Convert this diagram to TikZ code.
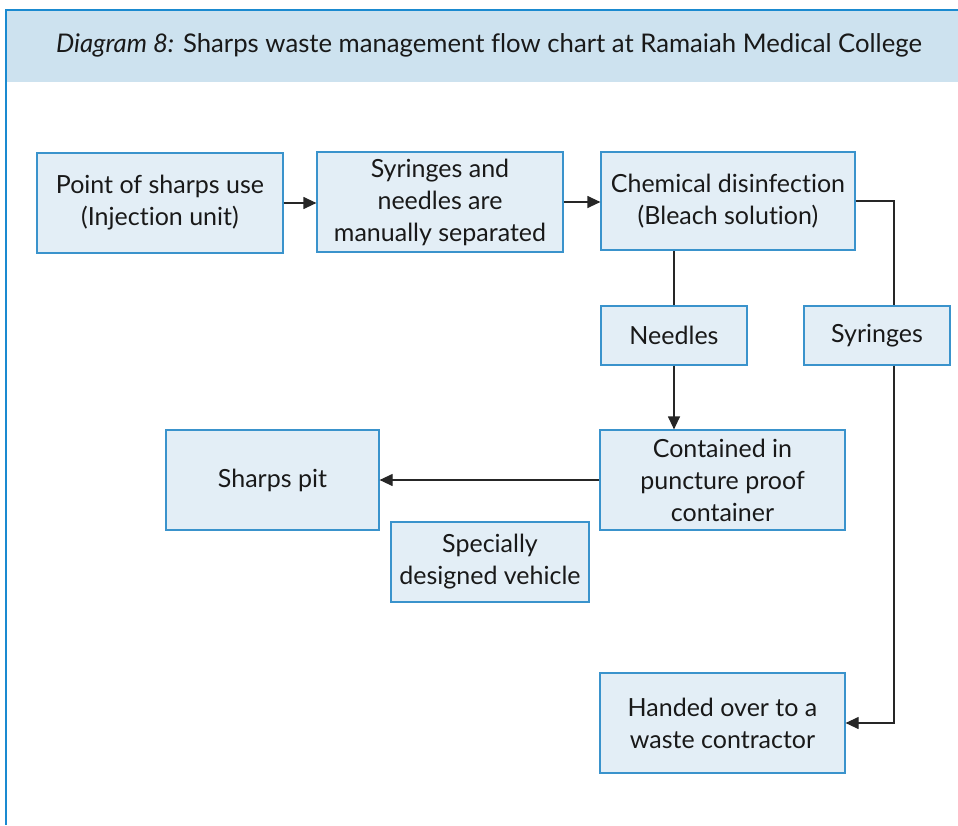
\documentclass[tikz,border=0pt]{standalone}
\usepackage{fontspec}
\setmainfont{Lato}[Ligatures=NoCommon]
\usetikzlibrary{arrows.meta,calc}
\definecolor{headfill}{HTML}{CDE2EF}
\definecolor{frameblue}{HTML}{1A8AD0}
\definecolor{boxfill}{HTML}{E3EEF6}
\definecolor{boxline}{HTML}{3A93CC}
\begin{document}
\begin{tikzpicture}[x=1pt,y=-1pt,
  flowbox/.style={draw=boxline, fill=boxfill, line width=1.2pt, rectangle,
    inner sep=0pt, align=center, font=\fontsize{25}{32}\selectfont, text=black!90},
  link/.style={line width=1.2pt, black!85},
  arr/.style={link, -{Triangle[length=13pt,width=12pt]}}]
\useasboundingbox (0,0) rectangle (958,825);
% header band and frame
\fill[headfill] (6,10) rectangle (958,82);
\draw[frameblue, line width=1.3pt] (958,10) -- (6,10) -- (6,825);
\node[font=\fontsize{25.7}{30}\selectfont, text=black!90] (title) at (489,45)
  {\textit{Diagram 8:} Sharps waste management flow chart at Ramaiah Medical College};
% boxes
\node[flowbox, minimum width=246pt, minimum height=100pt] (use)  at (160,203) {Point of sharps use\\(Injection unit)};
\node[flowbox, minimum width=246pt, minimum height=100pt] (sep)  at (440,202) {Syringes and\\needles are\\manually separated};
\node[flowbox, minimum width=254pt, minimum height=98pt]  (chem) at (728,201) {Chemical disinfection\\(Bleach solution)};
\node[flowbox, minimum width=146pt, minimum height=59pt]  (need) at (674,335.5) {Needles};
\node[flowbox, minimum width=146pt, minimum height=59pt]  (syr)  at (877,335.5) {Syringes};
\node[flowbox, minimum width=245pt, minimum height=100pt] (cont) at (722.5,480) {Contained in\\puncture proof\\container};
\node[flowbox, minimum width=213pt, minimum height=100pt] (pit)  at (272.5,480) {Sharps pit};
\node[flowbox, minimum width=198pt, minimum height=80pt]  (veh)  at (490,562) {Specially\\designed vehicle};
\node[flowbox, minimum width=245pt, minimum height=100pt] (hand) at (722.5,723) {Handed over to a\\waste contractor};
% connectors
\draw[arr] (use.east) -- (use.east -| sep.west);
\draw[arr] (sep.east) -- (sep.east -| chem.west);
\draw[link] (need.north) -- (need.north |- chem.south);
\draw[arr] (need.south) -- (need.south |- cont.north);
\draw[link] (chem.east) -| ([xshift=17pt]syr.north);
\draw[arr] ([xshift=17pt]syr.south) |- (hand.east);
\draw[arr] (cont.west) -- (pit.east);
\end{tikzpicture}
\end{document}
